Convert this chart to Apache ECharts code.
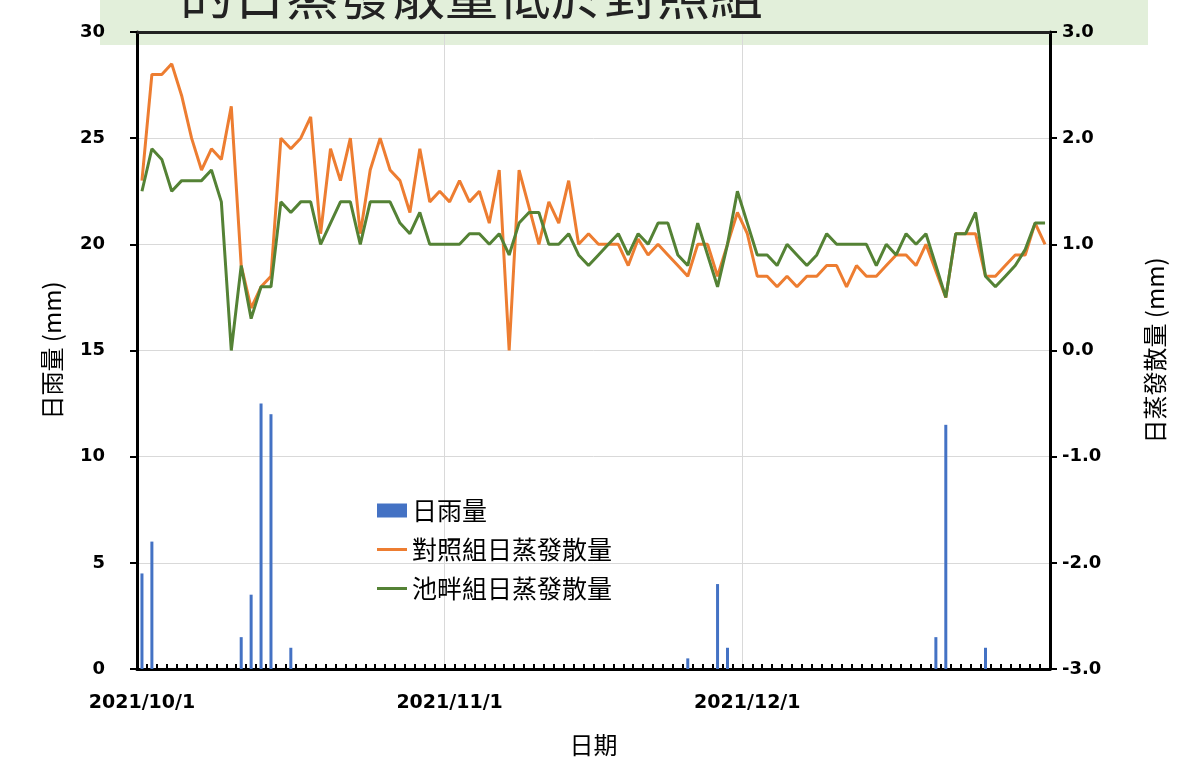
<!DOCTYPE html>
<html>
<head>
<meta charset="utf-8">
<script src="https://cdn.jsdelivr.net/npm/echarts@6/dist/echarts.min.js"></script>
<style>
  html, body { margin: 0; padding: 0; background: #fff; }
  #chart { width: 1189px; height: 759px; }
</style>
</head>
<body>
<div id="chart"></div>
<script>
// daily rainfall (mm), 2021/10/1 .. 2021/12/31
const rain = [
    4.5, 6.0, 0, 0, 0, 0, 0, 0, 0, 0,
    1.5, 3.5, 12.5, 12.0, 0, 1.0, 0, 0, 0, 0,
    0, 0, 0, 0, 0, 0, 0, 0, 0, 0,
    0, 0, 0, 0, 0, 0, 0, 0, 0, 0,
    0, 0, 0, 0, 0, 0, 0, 0, 0, 0,
    0, 0, 0, 0, 0, 0.5, 0, 0, 4.0, 1.0,
    0, 0, 0, 0, 0, 0, 0, 0, 0, 0,
    0, 0, 0, 0, 0, 0, 0, 0, 0, 0,
    1.5, 11.5, 0, 0, 0, 1.0, 0, 0, 0, 0,
    0, 0
];

// control group daily evapotranspiration (mm)
const control = [
    1.6, 2.6, 2.6, 2.7, 2.4, 2.0, 1.7, 1.9, 1.8, 2.3,
    0.8, 0.4, 0.6, 0.7, 2.0, 1.9, 2.0, 2.2, 1.1, 1.9,
    1.6, 2.0, 1.1, 1.7, 2.0, 1.7, 1.6, 1.3, 1.9, 1.4,
    1.5, 1.4, 1.6, 1.4, 1.5, 1.2, 1.7, 0.0, 1.7, 1.35,
    1.0, 1.4, 1.2, 1.6, 1.0, 1.1, 1.0, 1.0, 1.0, 0.8,
    1.05, 0.9, 1.0, 0.9, 0.8, 0.7, 1.0, 1.0, 0.7, 1.0,
    1.3, 1.1, 0.7, 0.7, 0.6, 0.7, 0.6, 0.7, 0.7, 0.8,
    0.8, 0.6, 0.8, 0.7, 0.7, 0.8, 0.9, 0.9, 0.8, 1.0,
    0.75, 0.5, 1.1, 1.1, 1.1, 0.7, 0.7, 0.8, 0.9, 0.9,
    1.2, 1.0
];

// pond-side group daily evapotranspiration (mm)
const pondside = [
    1.5, 1.9, 1.8, 1.5, 1.6, 1.6, 1.6, 1.7, 1.4, 0.0,
    0.8, 0.3, 0.6, 0.6, 1.4, 1.3, 1.4, 1.4, 1.0, 1.2,
    1.4, 1.4, 1.0, 1.4, 1.4, 1.4, 1.2, 1.1, 1.3, 1.0,
    1.0, 1.0, 1.0, 1.1, 1.1, 1.0, 1.1, 0.9, 1.2, 1.3,
    1.3, 1.0, 1.0, 1.1, 0.9, 0.8, 0.9, 1.0, 1.1, 0.9,
    1.1, 1.0, 1.2, 1.2, 0.9, 0.8, 1.2, 0.9, 0.6, 1.0,
    1.5, 1.2, 0.9, 0.9, 0.8, 1.0, 0.9, 0.8, 0.9, 1.1,
    1.0, 1.0, 1.0, 1.0, 0.8, 1.0, 0.9, 1.1, 1.0, 1.1,
    0.8, 0.5, 1.1, 1.1, 1.3, 0.7, 0.6, 0.7, 0.8, 0.95,
    1.2, 1.2
];

const seriesNames = ["日雨量", "對照組日蒸發散量", "池畔組日蒸發散量"];
const labelDays = [0, 31, 61];
const monthEdges = [31, 61];

const dates = [];
for (let d = 0; d < rain.length; d++) {
    const dt = new Date(2021, 9, 1 + d);
    dates.push(dt.getFullYear() + "/" + (dt.getMonth() + 1) + "/" + dt.getDate());
}

const cjk = "'Noto Sans CJK TC', 'Noto Sans', sans-serif";
const num = "'DejaVu Sans', sans-serif";
const lineIcon = "path://M0,0 L30,0 L30,3 L0,3 Z";

const getOption = () => {
    return {
        animation: false,
        backgroundColor: "#fff",
        color: ["#4472c4", "#ed7d31", "#548235"],
        graphic: [
            {
                type: "rect",
                z: -10,
                shape: { x: 100, y: 0, width: 1048, height: 45 },
                style: { fill: "#e2efda" }
            },
            {
                type: "text",
                z: -9,
                left: 180,
                top: -32,
                style: {
                    text: "的日蒸發散量低於對照組",
                    font: "53px " + cjk,
                    fill: "#222"
                }
            }
        ],
        grid: {
            left: 137,
            right: 139,
            top: 32,
            bottom: 90,
            containLabel: false,
            outerBoundsMode: "none"
        },
        legend: {
            orient: "vertical",
            left: 372,
            top: 493,
            itemGap: 14,
            itemWidth: 30,
            itemHeight: 14,
            textStyle: { fontFamily: cjk, fontSize: 25, color: "#000" },
            data: [
                { name: seriesNames[0], icon: "rect" },
                { name: seriesNames[1], icon: lineIcon },
                { name: seriesNames[2], icon: lineIcon }
            ]
        },
        xAxis: [
            {
                type: "category",
                data: dates,
                boundaryGap: true,
                name: "日期",
                nameLocation: "middle",
                nameGap: 64,
                nameTextStyle: { fontFamily: cjk, fontSize: 24, color: "#000" },
                axisLine: { onZero: false, lineStyle: { color: "#000", width: 3 } },
                axisTick: {
                    show: true,
                    inside: true,
                    interval: 0,
                    length: 5,
                    lineStyle: { color: "#000", width: 2 }
                },
                axisLabel: {
                    interval: (i) => labelDays.includes(i),
                    margin: 25,
                    fontFamily: num,
                    fontWeight: "bold",
                    fontSize: 19,
                    color: "#000"
                },
                splitLine: {
                    show: true,
                    interval: (i) => monthEdges.includes(i),
                    lineStyle: { color: "#d9d9d9", width: 1 }
                }
            },
            {
                type: "category",
                data: dates,
                position: "top",
                axisLine: { onZero: false, lineStyle: { color: "#222", width: 3 } },
                axisTick: { show: false },
                axisLabel: { show: false },
                splitLine: { show: false }
            }
        ],
        yAxis: [
            {
                type: "value",
                min: 0,
                max: 30,
                interval: 5,
                name: "日雨量 (mm)",
                nameLocation: "middle",
                nameRotate: 90,
                nameGap: 73,
                nameTextStyle: { fontFamily: cjk, fontSize: 24, color: "#000" },
                axisLine: { show: true, lineStyle: { color: "#000", width: 3 } },
                axisTick: { show: true, length: 7, lineStyle: { color: "#000", width: 2 } },
                axisLabel: {
                    margin: 32,
                    fontFamily: num,
                    fontWeight: "bold",
                    fontSize: 18,
                    color: "#000"
                },
                splitLine: { lineStyle: { color: "#d9d9d9", width: 1 } }
            },
            {
                type: "value",
                min: -3,
                max: 3,
                interval: 1,
                position: "right",
                name: "日蒸發散量 (mm)",
                nameLocation: "middle",
                nameRotate: 90,
                nameGap: 93,
                nameTextStyle: { fontFamily: cjk, fontSize: 24, color: "#000" },
                axisLine: { show: true, onZero: false, lineStyle: { color: "#000", width: 3 } },
                axisTick: { show: true, length: 7, lineStyle: { color: "#000", width: 2 } },
                axisLabel: {
                    margin: 12,
                    formatter: (v) => v.toFixed(1),
                    fontFamily: num,
                    fontWeight: "bold",
                    fontSize: 18,
                    color: "#000"
                },
                splitLine: { show: false }
            }
        ],
        series: [
            {
                name: seriesNames[0],
                type: "bar",
                yAxisIndex: 0,
                barWidth: 3,
                data: rain
            },
            {
                name: seriesNames[1],
                type: "line",
                yAxisIndex: 1,
                symbol: "none",
                lineStyle: { width: 3 },
                data: control
            },
            {
                name: seriesNames[2],
                type: "line",
                yAxisIndex: 1,
                symbol: "none",
                lineStyle: { width: 3 },
                data: pondside
            }
        ]
    };
};

const initChart = () => {
    const chart = echarts.init(document.getElementById("chart"));
    chart.setOption(getOption());
};

window.addEventListener("load", () => {
    initChart();
});
</script>
</body>
</html>
